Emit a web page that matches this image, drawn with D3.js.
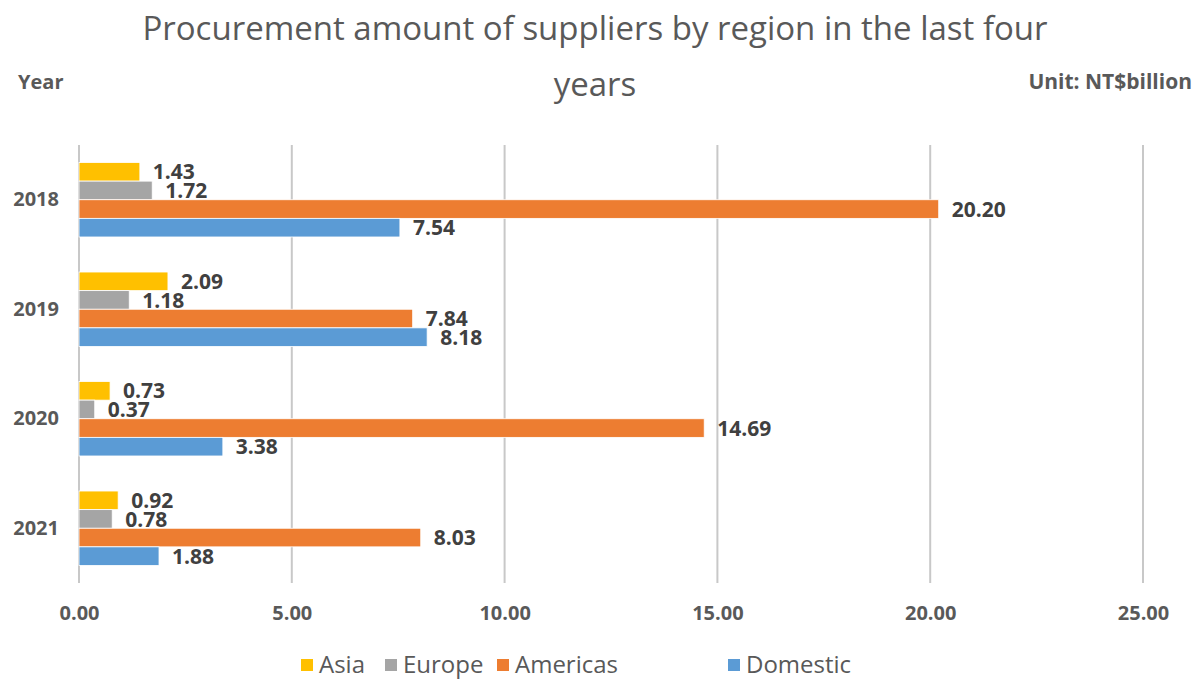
<!DOCTYPE html>
<html><head><meta charset="utf-8">
<script src="https://cdn.jsdelivr.net/npm/d3@7"></script>
<style>body{margin:0;background:#fff}svg{display:block}text{font-family:"Open Sans","Noto Sans",sans-serif}</style>
</head><body>
<svg id="c" width="1204" height="680"></svg>
<script>
const years = ["2018","2019","2020","2021"];
const series = ["Asia","Europe","Americas","Domestic"];
const asia = [1.43,2.09,0.73,0.92];
const europe = [1.72,1.18,0.37,0.78];
const americas = [20.20,7.84,14.69,8.03];
const domestic = [7.54,8.18,3.38,1.88];
const ticks = [0,5,10,15,20,25];
const colors = ["#FFC000","#A5A5A5","#ED7D31","#5B9BD5"];
const values = [asia, europe, americas, domestic];

const svg = d3.select("#c");
const x = d3.scaleLinear().domain([0,25]).range([79,1143]);
const y = d3.scaleBand().domain(years).range([145,583]).paddingInner(0.32).paddingOuter(0.16);
const yi = d3.scaleBand().domain(series).range([0,y.bandwidth()]);

// gridlines
svg.append("g").selectAll("line").data(ticks).join("line")
  .attr("x1",d=>x(d)).attr("x2",d=>x(d)).attr("y1",145).attr("y2",583)
  .attr("stroke","#C8C8C8").attr("stroke-width",2);

// x axis tick labels
const xa = svg.append("g").attr("transform","translate(0,613)")
  .call(d3.axisBottom(x).tickValues(ticks).tickFormat(d3.format(".2f")).tickSize(0).tickPadding(0));
xa.select(".domain").remove();
xa.selectAll("text").attr("font-size",20).attr("font-weight","bold").attr("fill","#595959").attr("dy","0.35em").attr("font-family","'Open Sans',sans-serif");

// y axis labels
const ya = svg.append("g").attr("transform","translate(59,0)")
  .call(d3.axisLeft(y).tickSize(0).tickPadding(0));
ya.select(".domain").remove();
ya.selectAll("text").attr("font-size",20).attr("font-weight","bold").attr("fill","#595959").attr("font-family","'Open Sans',sans-serif");

// bars
series.forEach((s,si)=>{
  const g = svg.append("g");
  g.selectAll("rect").data(years).join("rect")
    .attr("x",x(0)).attr("y",(d)=>y(d)+yi(s))
    .attr("width",(d,i)=>x(values[si][i])-x(0))
    .attr("height",yi.bandwidth())
    .attr("fill",colors[si]).attr("stroke","#fff").attr("stroke-width",0.8);
  g.selectAll("text").data(years).join("text")
    .attr("x",(d,i)=>x(values[si][i])+13)
    .attr("y",(d)=>y(d)+yi(s)+yi.bandwidth()/2)
    .attr("dy","0.36em")
    .attr("font-size",21).attr("font-weight","bold").attr("fill","#404040")
    .text((d,i)=>values[si][i].toFixed(2));
});

// title
svg.append("text").attr("x",595).attr("y",40).attr("text-anchor","middle")
  .attr("font-size",33).attr("fill","#595959").text("Procurement amount of suppliers by region in the last four");
svg.append("text").attr("x",595).attr("y",96).attr("text-anchor","middle")
  .attr("font-size",33).attr("fill","#595959").text("years");

svg.append("text").attr("x",18).attr("y",89).attr("font-size",20).attr("font-weight","bold").attr("fill","#595959").text("Year");
svg.append("text").attr("x",1192).attr("y",89).attr("text-anchor","end").attr("font-size",21).attr("font-weight","bold").attr("fill","#595959").text("Unit: NT$billion");

// legend
const legX = [301,385,497,728];
const lg = svg.append("g");
series.forEach((s,i)=>{
  lg.append("rect").attr("x",legX[i]).attr("y",659).attr("width",12).attr("height",12).attr("fill",colors[i]);
  lg.append("text").attr("x",legX[i]+18).attr("y",665).attr("dy","0.35em").attr("font-size",24).attr("fill","#595959").text(s);
});
</script>
</body></html>
